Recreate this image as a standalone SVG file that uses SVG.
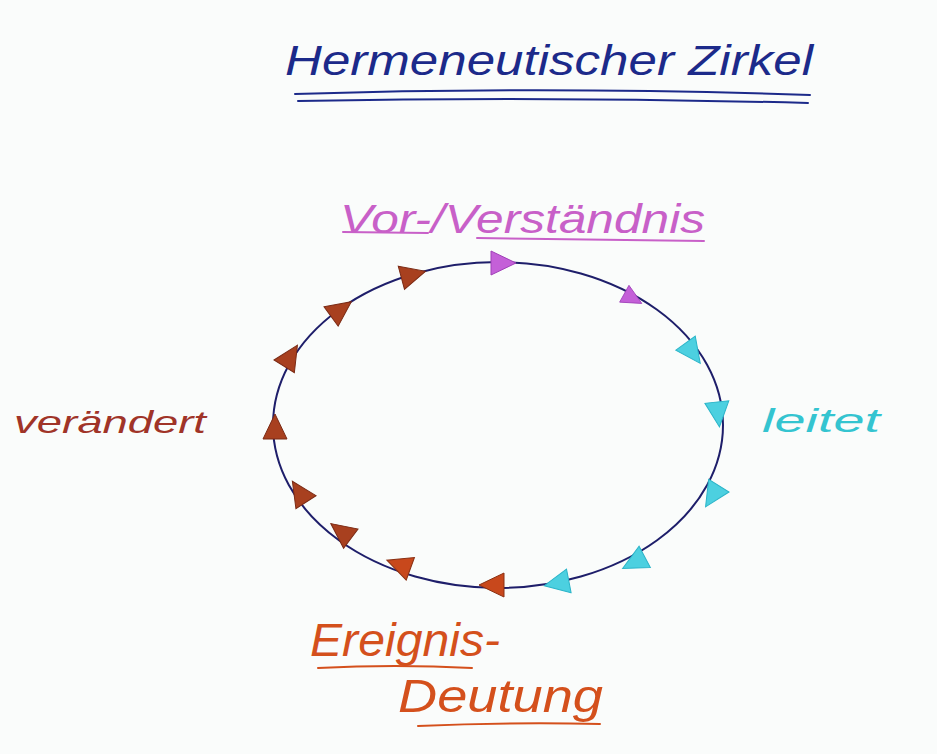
<svg xmlns="http://www.w3.org/2000/svg" width="937" height="754" viewBox="0 0 937 754">
<style>
text{font-family:"Liberation Sans","DejaVu Sans",sans-serif;font-style:italic}
.ul{fill:none;stroke-linecap:round}
.tri-brown{fill:#a8401f;stroke:#7a2a14;stroke-width:1}
.tri-red{fill:#c8481c;stroke:#8a3012;stroke-width:1}
.tri-pink{fill:#c460d8;stroke:#a040b8;stroke-width:1}
.tri-cyan{fill:#4cd0e0;stroke:#2ab4c8;stroke-width:1}
</style>
<defs>
<path id="tri" d="M-11,-12 L14,0 L-11,12 Z"/>
</defs>
<rect width="937" height="754" fill="#fafcfb"/>
<g id="title">
<text x="285" y="75" font-size="42" fill="#1c2a8a" textLength="528" lengthAdjust="spacingAndGlyphs">Hermeneutischer Zirkel</text>
<path class="ul" d="M295,94 Q550,86 810,95" stroke="#1c2a8a" stroke-width="2"/>
<path class="ul" d="M298,101 Q550,96 808,103" stroke="#1c2a8a" stroke-width="2"/>
</g>
<g id="vorverstaendnis">
<text x="340" y="233" font-size="40" fill="#c860c8" textLength="365" lengthAdjust="spacingAndGlyphs">Vor-/Verständnis</text>
<path class="ul" d="M343,232 L428,233" stroke="#c860c8" stroke-width="2"/>
<path class="ul" d="M477,238 L704,241" stroke="#c860c8" stroke-width="2"/>
</g>
<g id="veraendert">
<text x="14" y="433" font-size="32" fill="#a03428" textLength="192" lengthAdjust="spacingAndGlyphs">verändert</text>
</g>
<g id="leitet">
<text x="762" y="432" font-size="34" fill="#34c4d0" textLength="118" lengthAdjust="spacingAndGlyphs">leitet</text>
</g>
<g id="ereignis-deutung">
<text x="310" y="656" font-size="46" fill="#d4501c" textLength="190" lengthAdjust="spacingAndGlyphs">Ereignis-</text>
<path class="ul" d="M318,668 Q395,664 472,668" stroke="#d4501c" stroke-width="2"/>
<text x="398" y="712" font-size="46" fill="#d4501c" textLength="205" lengthAdjust="spacingAndGlyphs">Deutung</text>
<path class="ul" d="M418,726 Q510,722 600,724" stroke="#d4501c" stroke-width="2"/>
</g>
<g id="connectors">
<ellipse cx="498" cy="425" rx="225" ry="163" fill="none" stroke="#1e1e6a" stroke-width="2"/>
<use href="#tri" class="tri-brown" transform="translate(412,275) rotate(-15)"/>
<use href="#tri" class="tri-pink" transform="translate(502,263) rotate(0)"/>
<use href="#tri" class="tri-pink" transform="translate(632,298) rotate(29) scale(0.8)"/>
<use href="#tri" class="tri-cyan" transform="translate(692,352) rotate(54)"/>
<use href="#tri" class="tri-cyan" transform="translate(718,413) rotate(84)"/>
<use href="#tri" class="tri-cyan" transform="translate(713,495) rotate(122)"/>
<use href="#tri" class="tri-cyan" transform="translate(635,562) rotate(152)"/>
<use href="#tri" class="tri-cyan" transform="translate(558,583) rotate(169)"/>
<use href="#tri" class="tri-red" transform="translate(493,585) rotate(180)"/>
<use href="#tri" class="tri-red" transform="translate(400,565) rotate(200)"/>
<use href="#tri" class="tri-brown" transform="translate(342,532) rotate(217)"/>
<use href="#tri" class="tri-brown" transform="translate(300,493) rotate(237)"/>
<use href="#tri" class="tri-brown" transform="translate(275,428) rotate(270)"/>
<use href="#tri" class="tri-brown" transform="translate(290,357) rotate(302)"/>
<use href="#tri" class="tri-brown" transform="translate(340,310) rotate(324)"/>
</g>
</svg>
